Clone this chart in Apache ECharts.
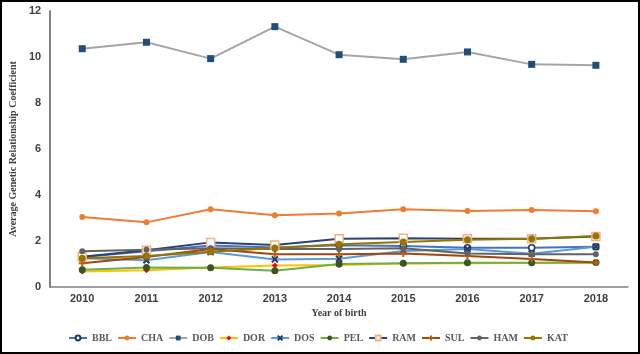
<!DOCTYPE html>
<html>
<head>
<meta charset="utf-8">
<script src="https://cdn.jsdelivr.net/npm/echarts@6/dist/echarts.min.js"></script>
<style>
    html, body { margin: 0; padding: 0; background: #fff; }
    #chart { width: 640px; height: 354px; }
    #frame { position: absolute; left: 0; top: 0; width: 640px; height: 354px; box-sizing: border-box; border: 2px solid #000; pointer-events: none; }
</style>
</head>
<body>
<div id="chart"></div>
<div id="frame"></div>
<script>
    const years = ['2010', '2011', '2012', '2013', '2014', '2015', '2016', '2017', '2018']
    const bbl = [1.30, 1.55, 1.80, 1.72, 1.82, 1.78, 1.71, 1.71, 1.75]
    const cha = [3.04, 2.81, 3.38, 3.12, 3.20, 3.38, 3.30, 3.35, 3.29]
    const dob = [10.36, 10.64, 9.93, 11.32, 10.10, 9.90, 10.22, 9.68, 9.64]
    const dor = [0.67, 0.73, 0.85, 0.94, 0.96, 1.02, 1.03, 1.04, 1.05]
    const dos = [1.25, 1.16, 1.52, 1.20, 1.23, 1.57, 1.65, 1.45, 1.75]
    const pel = [0.75, 0.85, 0.84, 0.71, 1.00, 1.03, 1.05, 1.05, 1.06]
    const ram = [1.32, 1.60, 1.94, 1.83, 2.10, 2.12, 2.10, 2.10, 2.20]
    const sul = [1.03, 1.30, 1.65, 1.42, 1.42, 1.46, 1.35, 1.22, 1.07]
    const ham = [1.55, 1.62, 1.68, 1.65, 1.65, 1.69, 1.46, 1.42, 1.42]
    const kat = [1.25, 1.35, 1.53, 1.70, 1.86, 1.96, 2.05, 2.10, 2.22]

    const crossPath = 'path://M0,0L10,10M10,0L0,10'
    const plusPath = 'path://M5,0L5,10M0,5L10,5'

    function makeLine(name, data, lineColor, symbol, markColor, size, hollow) {
        return {
            name: name,
            type: 'line',
            data: data,
            symbol: symbol,
            symbolSize: size,
            lineStyle: { color: lineColor, width: 2 },
            itemStyle: {
                color: hollow ? '#fff' : markColor,
                borderColor: markColor,
                borderWidth: hollow ? 1.5 : (symbol.indexOf('path') === 0 ? 2 : 0)
            },
            emphasis: { disabled: true }
        }
    }

    const chart = echarts.init(document.getElementById('chart'))
    const options = {
        animation: false,
        grid: {
            left: 47,
            right: 12,
            top: 11,
            bottom: 67
        },
        legend: {
            bottom: 6,
            left: 63,
            itemGap: 5,
            itemWidth: 18,
            itemHeight: 6,
            textStyle: {
                fontFamily: 'Liberation Serif',
                fontWeight: 'bold',
                fontSize: 10,
                color: '#595959'
            }
        },
        xAxis: {
            type: 'category',
            data: years,
            name: 'Year of birth',
            nameLocation: 'middle',
            nameGap: 19,
            nameTextStyle: { fontFamily: 'Liberation Serif', fontWeight: 'bold', fontSize: 10, color: '#404040' },
            axisLine: { lineStyle: { color: '#808080', width: 1.5 } },
            axisTick: { show: false },
            axisLabel: { fontFamily: 'Liberation Sans', fontWeight: 'bold', fontSize: 11, color: '#404040', margin: 6 }
        },
        yAxis: {
            type: 'value',
            min: 0,
            max: 12,
            interval: 2,
            name: 'Average Genetic Relationship Coefficient',
            nameLocation: 'middle',
            nameGap: 23,
            nameTextStyle: { fontFamily: 'Liberation Serif', fontWeight: 'bold', fontSize: 10, color: '#404040' },
            axisLine: { show: true, lineStyle: { color: '#595959', width: 1.5 } },
            axisTick: { show: false },
            splitLine: { show: false },
            axisLabel: { fontFamily: 'Liberation Sans', fontWeight: 'bold', fontSize: 11, color: '#404040', margin: 9 }
        },
        series: [
            makeLine('BBL', bbl, '#4472c4', 'circle', '#1f3864', 6, true),
            makeLine('CHA', cha, '#ed7d31', 'circle', '#ed7d31', 6, false),
            makeLine('DOB', dob, '#a5a5a5', 'rect', '#1f4e79', 7, false),
            makeLine('DOR', dor, '#ffc000', 'diamond', '#ff0000', 6, false),
            makeLine('DOS', dos, '#5b9bd5', crossPath, '#1f3864', 6, false),
            makeLine('PEL', pel, '#70ad47', 'circle', '#375623', 7, false),
            makeLine('RAM', ram, '#264478', 'rect', '#f4b183', 8, true),
            makeLine('SUL', sul, '#9e480e', plusPath, '#c55a11', 7, false),
            makeLine('HAM', ham, '#636363', 'circle', '#636363', 6, false),
            makeLine('KAT', kat, '#997300', 'circle', '#997300', 7, false)
        ]
    }
    chart.setOption(options)
</script>
</body>
</html>
